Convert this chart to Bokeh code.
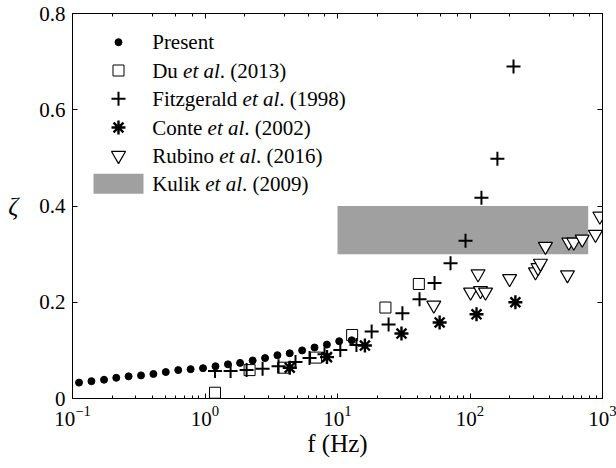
import numpy as np
from bokeh.plotting import figure
from bokeh.models import Range1d, LogAxis, LinearAxis, FixedTicker, LogTicker, Label, CustomJSTickFormatter
from bokeh.embed import file_html
from bokeh.resources import INLINE

# ---------------- data ----------------
present_f = [0.112, 0.139, 0.173, 0.214, 0.265, 0.329, 0.408, 0.506, 0.628, 0.779, 0.966,
             1.20, 1.49, 1.84, 2.29, 2.84, 3.52, 4.36, 5.41, 6.71, 8.32, 10.3, 12.8]
present_z = [0.033, 0.036, 0.039, 0.043, 0.046, 0.048, 0.051, 0.055, 0.059, 0.061, 0.063,
             0.067, 0.071, 0.074, 0.079, 0.084, 0.090, 0.094, 0.100, 0.106, 0.112, 0.119, 0.121]

du_f = [1.19, 2.17, 3.89, 6.89, 12.9, 23.0, 41.1]
du_z = [0.012, 0.059, 0.064, 0.085, 0.132, 0.189, 0.238]

fitz_f = [1.19, 1.56, 2.06, 2.72, 3.59, 4.82, 6.15, 7.98, 10.5, 13.9, 18.1, 24.3, 30.9,
          41.6, 54.0, 71.3, 92.5, 122, 161, 213]
fitz_z = [0.057, 0.057, 0.059, 0.062, 0.067, 0.076, 0.084, 0.092, 0.101, 0.111, 0.139,
          0.154, 0.177, 0.206, 0.240, 0.281, 0.328, 0.417, 0.498, 0.690]

conte_f = [4.36, 8.33, 16.1, 30.4, 59.0, 112, 220]
conte_z = [0.064, 0.086, 0.110, 0.135, 0.158, 0.175, 0.200]

rubino_f = [53.3, 101, 115, 120, 131, 199, 312, 326, 340, 371, 544, 557, 607, 703, 885, 955]
rubino_z = [0.194, 0.221, 0.259, 0.224, 0.221, 0.249, 0.263, 0.272, 0.281, 0.316,
            0.257, 0.325, 0.325, 0.331, 0.341, 0.379]

kulik_f = [10, 780]
kulik_z = [0.30, 0.40]

y_ticks = [0, 0.2, 0.4, 0.6, 0.8]
y_tick_labels = ["0", "0.2", "0.4", "0.6", "0.8"]

legend_labels = [
    ("Present", None, None),
    ("Du", "et al", ". (2013)"),
    ("Fitzgerald", "et al", ". (1998)"),
    ("Conte", "et al", ". (2002)"),
    ("Rubino", "et al", ". (2016)"),
    ("Kulik", "et al", ". (2009)"),
]

x_title = "f (Hz)"
y_title = "ζ"

# ---------------- layout ----------------
XMIN, XMAX, YMIN, YMAX = 0.1, 1000.0, 0.0, 0.8
W, H = 616, 468
ML, MR, MT, MB = 72, 14, 13, 70
FW, FH = W - ML - MR, H - MT - MB
FONT = "Liberation Serif"
FS = 21  # px

def fx(px):  # frame pixel from left -> data x (log axis)
    lo, hi = np.log10(XMIN), np.log10(XMAX)
    return 10 ** (lo + px / FW * (hi - lo))

def fy(px):  # frame pixel from top -> data y
    return YMAX - px / FH * (YMAX - YMIN)

p = figure(width=W, height=H, x_axis_type="log",
           x_range=Range1d(XMIN, XMAX), y_range=Range1d(YMIN, YMAX),
           output_backend="svg", toolbar_location=None,
           min_border_left=ML, min_border_right=MR, min_border_top=MT, min_border_bottom=MB)
p.grid.visible = False
p.background_fill_color = "white"
p.border_fill_color = "white"
p.outline_line_color = "black"
p.outline_line_width = 1

xa = p.xaxis[0]
ya = p.yaxis[0]
for ax in (xa, ya):
    ax.axis_line_color = "black"
    ax.major_tick_in = 5
    ax.major_tick_out = 0
    ax.minor_tick_in = 3
    ax.minor_tick_out = 0
    ax.major_label_text_font = FONT
    ax.major_label_text_font_size = f"{FS}px"
    ax.major_label_text_color = "black"
    ax.major_tick_line_color = "black"
    ax.minor_tick_line_color = "black"
    ax.major_label_standoff = 7
    ax.axis_label_text_font = FONT
    ax.axis_label_text_font_size = "25px"
    ax.axis_label_text_color = "black"
ya.ticker = FixedTicker(ticks=y_ticks)
ya.major_label_overrides = {t: s for t, s in zip(y_ticks, y_tick_labels)}
ya.minor_tick_line_color = None
ya.axis_label = y_title
ya.axis_label_orientation = "horizontal"
ya.axis_label_text_font_style = "italic"
ya.axis_label_standoff = 18
xa.axis_label = x_title
xa.axis_label_text_font_style = "normal"
xa.axis_label_standoff = 1

blank = CustomJSTickFormatter(code="return ''")
top = LogAxis(ticker=LogTicker(), formatter=blank, major_tick_in=5, major_tick_out=0,
              minor_tick_in=3, minor_tick_out=0, major_label_standoff=0,
              axis_line_color="black")
right = LinearAxis(ticker=FixedTicker(ticks=y_ticks), formatter=blank, major_tick_in=5,
                   major_tick_out=0, minor_tick_line_color=None, major_label_standoff=0,
                   axis_line_color="black")
p.add_layout(top, "above")
p.add_layout(right, "right")

# ---------------- data marks ----------------
p.quad(left=[kulik_f[0]], right=[kulik_f[1]], bottom=[kulik_z[0]], top=[kulik_z[1]],
       fill_color="#a0a0a0", line_color=None)
p.scatter(present_f, present_z, marker="circle", size=7, fill_color="black", line_color="black")
p.scatter(du_f, du_z, marker="square", size=11, fill_color=None, line_color="black", line_width=1)
p.scatter(fitz_f, fitz_z, marker="cross", size=14, line_color="black", line_width=2)
p.scatter(conte_f, conte_z, marker="asterisk", size=14, line_color="black", line_width=2.4)
p.scatter(rubino_f, rubino_z, marker="inverted_triangle", size=14, fill_color="white",
          line_color="black", line_width=1.2)

# ---------------- legend (manual, for italic "et al") ----------------
rows = [28.7, 57.0, 85.3, 114.0, 142.0, 170.3]
mx = fx(46)
p.scatter([mx], [fy(rows[0])], marker="circle", size=7, fill_color="black", line_color="black")
p.scatter([mx], [fy(rows[1])], marker="square", size=11, fill_color=None, line_color="black")
p.scatter([mx], [fy(rows[2])], marker="cross", size=14, line_color="black", line_width=2)
p.scatter([mx], [fy(rows[3])], marker="asterisk", size=14, line_color="black", line_width=2.4)
p.scatter([mx], [fy(rows[4])], marker="inverted_triangle", size=14, fill_color="white",
          line_color="black", line_width=1.2)
p.quad(left=[fx(21)], right=[fx(71)], bottom=[fy(rows[5] + 10)], top=[fy(rows[5] - 10)],
       fill_color="#a0a0a0", line_color=None)

# Times New Roman / Liberation Serif advance widths (per 1000 em)
ROMAN = {' ': 250, '(': 333, ')': 333, '.': 250, 'D': 722, 'u': 500, 'F': 556, 'i': 278,
         't': 278, 'z': 444, 'g': 500, 'e': 444, 'r': 333, 'a': 444, 'l': 278, 'd': 500,
         'C': 667, 'o': 500, 'n': 500, 'R': 667, 'b': 500, 'K': 722, 'k': 500, 'P': 556,
         's': 389, 'H': 722}
ITAL = {' ': 250, 'e': 444, 't': 278, 'a': 500, 'l': 278, 'f': 278}
for c in "0123456789":
    ROMAN[c] = 500

def width(s, table, fs):
    return sum(table.get(c, 500) for c in s) / 1000.0 * fs

tx = fx(79.7)
for r, (a, b, c) in zip(rows, legend_labels):
    y = fy(r)
    kw = dict(text_font=FONT, text_font_size=f"{FS}px", text_baseline="middle",
              text_align="left", text_color="black")
    p.add_layout(Label(x=tx, y=y, text=a, **kw))
    if b is not None:
        off = width(a + " ", ROMAN, FS)
        p.add_layout(Label(x=tx, y=y, x_offset=off, text=b, text_font_style="italic", **kw))
        off += width(b, ITAL, FS)
        p.add_layout(Label(x=tx, y=y, x_offset=off, text=c, **kw))

open("out.html", "w").write(file_html(p, INLINE))
